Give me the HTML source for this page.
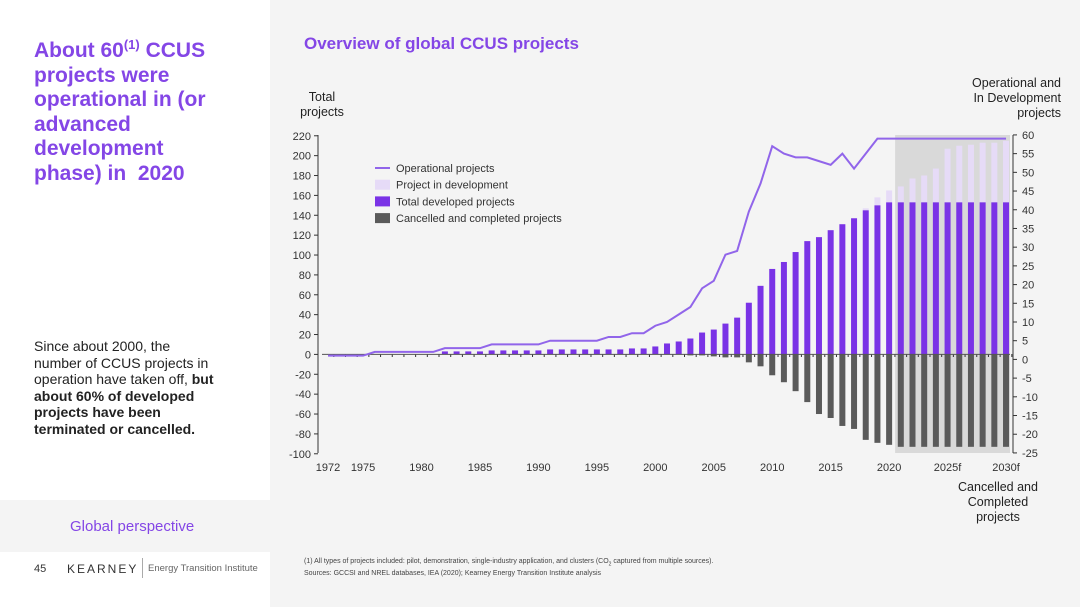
<!DOCTYPE html>
<html><head><meta charset="utf-8"><style>
body{margin:0;width:1080px;height:607px;position:relative;background:#f4f4f4;font-family:"Liberation Sans",sans-serif;overflow:hidden}
.abs{position:absolute}
</style></head><body>
<div class="abs" style="left:0;top:0;width:270px;height:500px;background:#fff"></div>
<div class="abs" style="left:0;top:552px;width:270px;height:55px;background:#fff"></div>
<div class="abs" style="left:34px;top:33px;width:236px;white-space:nowrap;font-size:21px;font-weight:bold;color:#8446e6;line-height:24.5px">About 60<sup style="font-size:13px">(1)</sup> CCUS<br>projects were<br>operational in (or<br>advanced<br>development<br>phase) in&nbsp; 2020</div>
<div class="abs" style="left:34px;top:338px;width:236px;white-space:nowrap;font-size:14px;color:#222;line-height:16.6px">Since about 2000, the<br>number of CCUS projects in<br>operation have taken off, <b>but<br>about 60% of developed<br>projects have been<br>terminated or cancelled.</b></div>
<div class="abs" style="left:70px;top:518px;font-size:15px;color:#8446e6">Global perspective</div>
<div class="abs" style="left:34px;top:563px;font-size:11px;color:#333">45</div>
<div class="abs" style="left:67px;top:562px;font-size:12px;letter-spacing:2px;color:#333">KEARNEY</div>
<div class="abs" style="left:142px;top:558px;width:1px;height:20px;background:#aaa"></div>
<div class="abs" style="left:148px;top:563px;font-size:9.5px;color:#666">Energy Transition Institute</div>
<div class="abs" style="left:304px;top:557px;font-size:7px;color:#444;line-height:9px">(1) All types of projects included: pilot, demonstration, single-industry application, and clusters (CO<sub style="font-size:5px">2</sub> captured from multiple sources).<br>Sources: GCCSI and NREL databases, IEA (2020); Kearney Energy Transition Institute analysis</div>
<div class="abs" style="left:304px;top:34px;font-size:17px;font-weight:bold;color:#8446e6">Overview of global CCUS projects</div>
<div class="abs" style="left:290px;top:90px;width:64px;text-align:center;font-size:12.5px;color:#222;line-height:15px">Total<br>projects</div>
<div class="abs" style="left:940px;top:76px;width:121px;text-align:right;font-size:12.5px;color:#222;line-height:15px">Operational and<br>In Development<br>projects</div>
<div class="abs" style="left:940px;top:480px;width:116px;text-align:center;font-size:12.5px;color:#222;line-height:15px">Cancelled and<br>Completed<br>projects</div>
<svg class="abs" style="left:0;top:0" width="1080" height="607" id="chart"></svg>
<script>
const years=[];for(let y=1972;y<=2030;y++)years.push(y);
const developed=[0,0,0,0,0,0,0,0,0,0,3,3,3,3,4,4,4,4,4,5,5,5,5,5,5,5,6,6,8,11,13,16,22,25,31,37,52,69,86,93,103,114,118,125,131,137,145,150,153,153,153,153,153,153,153,153,153,153,153];
const inDev=[0,0,0,0,0,0,0,0,0,0,0,0,0,0,0,0,0,0,0,0,0,0,0,0,0,0,0,0,0,0,0,0,0,0,0,0,0,0,0,0,0,0,0,0,0,0,147,158,165,169,177,180,187,207,210,211,213,213,215];
const cancelled=[0,0,0,0,0,0,0,0,0,0,0,0,0,0,0,0,0,0,0,0,0,0,0,0,0,0,0,0,0,0,0,-1,-1,-2,-3,-3,-8,-12,-21,-28,-37,-48,-60,-64,-72,-75,-86,-89,-91,-93,-93,-93,-93,-93,-93,-93,-93,-93,-93,-93];
const operational=[1,1,1,1,2,2,2,2,2,2,3,3,3,3,4,4,4,4,4,5,5,5,5,5,6,6,7,7,9,10,12,14,19,21,28,29,39.5,47,57,55,54,54,53,52,55,51,55,59,59,59,59,59,59,59,59,59,59,59,59];
const leftTicks=[220,200,180,160,140,120,100,80,60,40,20,0,-20,-40,-60,-80,-100];
const rightTicks=[60,55,50,45,40,35,30,25,20,15,10,5,0,-5,-10,-15,-20,-25];
const xLabels=[[1972,"1972"],[1975,"1975"],[1980,"1980"],[1985,"1985"],[1990,"1990"],[1995,"1995"],[2000,"2000"],[2005,"2005"],[2010,"2010"],[2015,"2015"],[2020,"2020"],[2025,"2025f"],[2030,"2030f"]];
const X=y=>328+(y-1972)*11.69;
const YL=v=>354.4-v*(318/320);
const YR=v=>359.4-v*(318/85);
const svg=document.getElementById('chart');const NS='http://www.w3.org/2000/svg';
function mk(t,a){const e=document.createElementNS(NS,t);for(const k in a)e.setAttribute(k,a[k]);svg.appendChild(e);return e;}
let e=mk('rect',{x:X(2020)+6,y:135,width:X(2030)+4-X(2020)-6,height:318,fill:'#d9d9d9'});

years.forEach((y,i)=>{
 if(inDev[i]>developed[i]){e=mk('rect',{x:X(y)-3,y:YL(inDev[i]),width:6,height:YL(developed[i])-YL(inDev[i]),fill:'#e6dbf7'});
 }
 if(developed[i]>0){e=mk('rect',{x:X(y)-3,y:YL(developed[i]),width:6,height:YL(0)-YL(developed[i]),fill:'#7a33e6'});
 }
 if(cancelled[i]<0){e=mk('rect',{x:X(y)-3,y:YL(0),width:6,height:YL(cancelled[i])-YL(0),fill:'#5a5a5a'});
 }
 mk('line',{x1:X(y)+5.8,x2:X(y)+5.8,y1:354,y2:357,stroke:'#333','stroke-width':1});
});
e=mk('line',{x1:322,x2:1010,y1:354.4,y2:354.4,stroke:'#555','stroke-width':1});

e=mk('polyline',{points:years.map((y,i)=>X(y)+','+YR(operational[i])).join(' '),fill:'none',stroke:'#9165ea','stroke-width':2});

e=mk('line',{x1:318,x2:318,y1:135,y2:453,stroke:'#333'});

e=mk('line',{x1:1013,x2:1013,y1:135,y2:453,stroke:'#333'});

leftTicks.forEach(v=>{mk('line',{x1:314,x2:318,y1:YL(v),y2:YL(v),stroke:'#333'});
 e=mk('text',{x:311,y:YL(v)+4,'text-anchor':'end','font-size':11,fill:'#333'});e.textContent=v;
 });
rightTicks.forEach(v=>{mk('line',{x1:1013,x2:1017,y1:YR(v),y2:YR(v),stroke:'#333'});
 e=mk('text',{x:1022,y:YR(v)+4,'font-size':11,fill:'#333'});e.textContent=v;
 });
xLabels.forEach(([y,l])=>{e=mk('text',{x:X(y),y:471,'text-anchor':'middle','font-size':11,fill:'#333'});e.textContent=l;
 });
const leg=[['line','#9165ea','Operational projects'],['rect','#e6dbf7','Project in development'],['rect','#7a33e6','Total developed projects'],['rect','#5a5a5a','Cancelled and completed projects']];
leg.forEach((l,i)=>{const y=168+i*16.7;
 if(l[0]=='line')mk('line',{x1:375,x2:390,y1:y,y2:y,stroke:l[1],'stroke-width':2});
 else mk('rect',{x:375,y:y-5,width:15,height:10,fill:l[1]});
 e=mk('text',{x:396,y:y+4,'font-size':11,fill:'#333'});e.textContent=l[2];
 });
</script>
</body></html>
